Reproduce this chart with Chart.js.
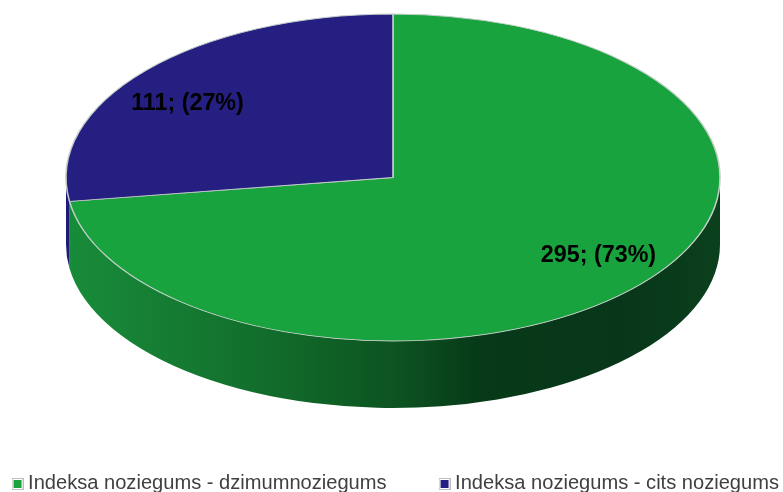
<!DOCTYPE html>
<html><head><meta charset="utf-8">
<style>html,body{margin:0;padding:0;background:#fff}canvas{display:block}</style>
<script src="https://cdn.jsdelivr.net/npm/chart.js@4/dist/chart.umd.min.js"></script>
</head><body><canvas id="c" width="783" height="492"></canvas>
<script>
const categories = ["Indeksa noziegums - dzimumnoziegums", "Indeksa noziegums - cits noziegums"];
const seriesValues = [295, 111];
const percentLabels = ["73%", "27%"];
const sliceColors = ["#18A33F", "#261F82"];
const wallStops = [
  [[0, "#188C3A"], [0.3, "#126E2C"], [0.5, "#0D5421"], [0.63, "#073A18"], [0.85, "#08361A"], [1, "#0B401D"]],
  [[0, "#1E1A78"], [1, "#1E1A78"]]
];
const view = {cx: 393, cy: 177.5, rx: 327, ry: 163.5, depth: 67};

function legendSwatch(color) {
  const c = document.createElement("canvas");
  c.width = 12; c.height = 12;
  const x = c.getContext("2d");
  x.fillStyle = "#fff"; x.fillRect(0, 0, 12, 12);
  x.strokeStyle = "#BDBDBD"; x.lineWidth = 1; x.strokeRect(0.5, 0.5, 11, 11);
  x.fillStyle = color; x.fillRect(2, 2, 8, 8);
  return c;
}

const pie3d = {
  id: "pie3d",
  beforeDatasetsDraw(chart) {
    const ctx = chart.ctx, v = view;
    chart.getDatasetMeta(0).data.forEach((arc, i) => {
      const a1 = Math.max(arc.startAngle, 0), a2 = Math.min(arc.endAngle, Math.PI);
      if (a2 <= a1) return;
      const g = ctx.createLinearGradient(v.cx - v.rx, 0, v.cx + v.rx, 0);
      wallStops[i].forEach(s => g.addColorStop(s[0], s[1]));
      ctx.beginPath();
      ctx.ellipse(v.cx, v.cy, v.rx, v.ry, 0, a1, a2);
      ctx.ellipse(v.cx, v.cy + v.depth, v.rx, v.ry, 0, a2, a1, true);
      ctx.closePath();
      ctx.fillStyle = g;
      ctx.fill();
    });
  },
  beforeDatasetDraw(chart) {
    const arc = chart.getDatasetMeta(0).data[0], v = view, ctx = chart.ctx;
    ctx.save();
    ctx.translate(v.cx, v.cy);
    ctx.scale(v.rx / arc.outerRadius, v.ry / arc.outerRadius);
    ctx.translate(-arc.x, -arc.y);
  },
  afterDatasetDraw(chart) { chart.ctx.restore(); },
  afterDatasetsDraw(chart) {
    const ctx = chart.ctx, v = view;
    ctx.save();
    ctx.fillStyle = "#000";
    ctx.font = "bold 23.3px 'Liberation Sans', Arial, sans-serif";
    ctx.textAlign = "center";
    ctx.textBaseline = "middle";
    chart.getDatasetMeta(0).data.forEach((arc, i) => {
      const m = (arc.startAngle + arc.endAngle) / 2;
      ctx.fillText(seriesValues[i] + "; (" + percentLabels[i] + ")",
        v.cx + Math.cos(m) * v.rx * 0.83, v.cy + 2 + Math.sin(m) * v.ry * 0.71);
    });
    ctx.restore();
  }
};

new Chart(document.getElementById("c"), {
  type: "pie",
  data: {labels: categories, datasets: [{
    data: seriesValues, backgroundColor: sliceColors,
    borderColor: "#C4CFC8", borderWidth: 1, clip: false
  }]},
  options: {
    responsive: false, animation: false, events: [],
    layout: {padding: {bottom: -12, left: -100, right: -113}},
    plugins: {
      tooltip: {enabled: false},
      legend: {position: "bottom", labels: {
        usePointStyle: true, pointStyleWidth: 1, boxHeight: 12,
        padding: 57.5, color: "#404040",
        font: {family: "'Liberation Sans', Arial, sans-serif", size: 20.1},
        generateLabels: () => categories.map((t, i) => ({
          text: t, pointStyle: legendSwatch(sliceColors[i]), fontColor: "#404040", index: i
        }))
      }}
    }
  },
  plugins: [pie3d]
});
</script></body></html>
